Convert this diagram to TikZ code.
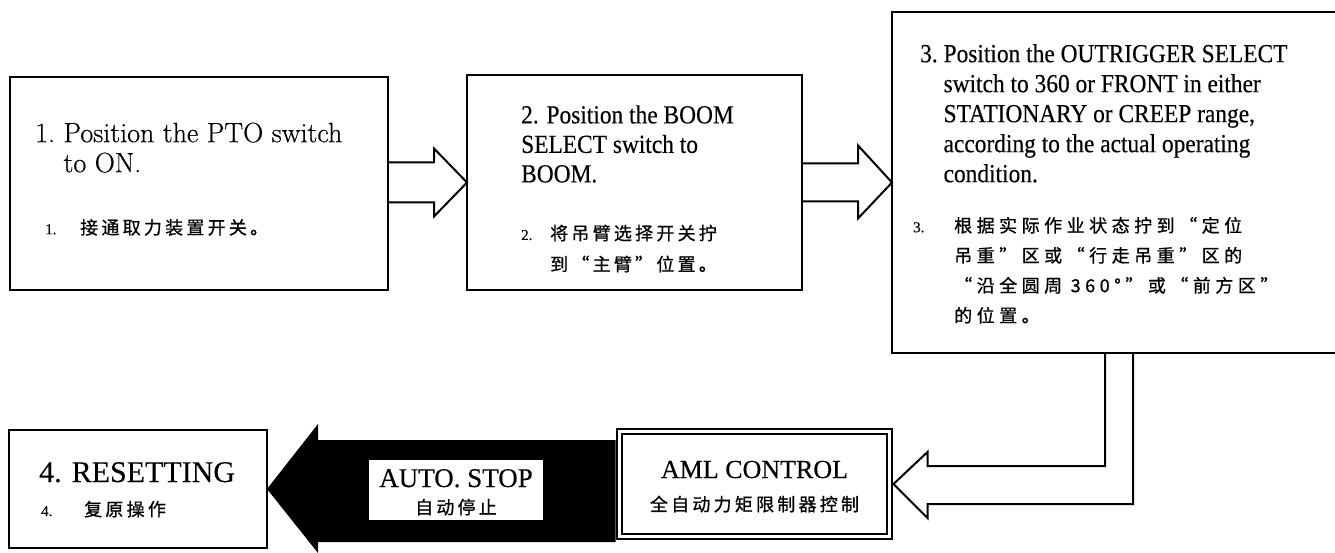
\documentclass[tikz,border=0pt]{standalone}
\usepackage{fontspec}
\newfontfamily\stepone[FakeBold=0.5]{Latin Modern Roman}
\newfontfamily\narrowserif[FakeStretch=0.9,FakeBold=0.3]{Liberation Serif}
\newfontfamily\plainserif[FakeBold=0.3]{Liberation Serif}
\newfontfamily\cjk[LetterSpace=18,FakeBold=0.8]{Noto Sans CJK SC}
\newfontfamily\cjkwide[LetterSpace=25,FakeBold=0.8]{Noto Sans CJK SC}
\usetikzlibrary{calc}

\tikzset{
  stepbox/.style={draw, line width=2.6pt, inner sep=0pt, outer sep=0pt},
  hollow/.style={draw, line width=2pt, line join=miter},
  entext/.style={inner sep=0pt, anchor=north west, align=left},
  cntext/.style={inner sep=0pt, anchor=north west, align=left, font=\fontsize{18}{30}\selectfont\cjk},
}
\newcommand{\stepnum}[2]{\makebox[#1][l]{\plainserif\fontsize{15}{15}\selectfont #2}}

\begin{document}
\begin{tikzpicture}[x=1pt, y=-1pt]

	\useasboundingbox (0,0) rectangle (1335,553);

	% ---------- top row of steps ----------
	\node[stepbox, minimum width=378pt, minimum height=213pt] (box1) at (199,183.5) {};
	\node[stepbox, minimum width=335pt, minimum height=215pt] (box2) at (634.5,182.5) {};
	\node[inner sep=0pt, outer sep=0pt, minimum width=444pt, minimum height=341pt] (box3) at (1114,182.5) {};
	\draw[line width=2.6pt] (box3.north east) -- (box3.north west) -- (box3.south west) -- (box3.south east);

	% step 1 text
	\node[entext, font=\stepone\fontsize{28}{30}\selectfont] (t1) at (35,121)
	{\strut 1.~Position the PTO switch\\ \phantom{1.~}to ON.};
	\node[cntext] (c1) at (45,213) {\strut\stepnum{35pt}{1.}接通取力装置开关。};

	% step 2 text
	\node[entext, font=\narrowserif\fontsize{26}{29.5}\selectfont] (t2) at (521,102.5)
	{\strut 2. Position the BOOM\\ SELECT switch to\\ BOOM.};
	\node[cntext, font=\fontsize{18}{31}\selectfont\cjk] (c2) at (521,218)
	{\strut\stepnum{29pt}{2.}将吊臂选择开关拧\\ \hspace*{29pt}到“主臂”位置。};

	% step 3 text
	\node[entext, font=\narrowserif\fontsize{26}{30}\selectfont] (t3) at (920,41)
	{\strut 3.~Position the OUTRIGGER SELECT\\
	\phantom{3.~}switch to 360 or FRONT in either\\
	\phantom{3.~}STATIONARY or CREEP range,\\
	\phantom{3.~}according to the actual operating\\
	\phantom{3.~}condition.};
	\node[cntext, font=\fontsize{18}{30}\selectfont\cjkwide] (c3) at (913,211)
	{\strut\stepnum{41pt}{3.}根据实际作业状态拧到“定位\\
	\hspace*{41pt}吊重”区或“行走吊重”区的\\
	\hspace*{41pt}“沿全圆周 360°”或“前方区”\\
	\hspace*{41pt}的位置。};

	% ---------- bottom row ----------
	\node[stepbox, minimum width=258pt, minimum height=118pt] (box4) at (138,489) {};
	\node[stepbox, double, line width=2pt, double distance=3.5pt, fill=white,
	minimum width=270pt, minimum height=105pt] (aml) at (754.5,484) {};

	% hollow arrows between the steps
	\draw[hollow] ($(box1.east |- box2.west)+(0,-20)$) -- ($(box2.west)+(-33,-20)$)
	-- ($(box2.west)+(-33,-34)$) -- (box2.west) -- ($(box2.west)+(-33,34)$)
	-- ($(box2.west)+(-33,20)$) -- ($(box1.east |- box2.west)+(0,20)$);
	\draw[hollow] ($(box2.east |- box3.west)+(0,-19)$) -- ($(box3.west)+(-34,-19)$)
	-- ($(box3.west)+(-34,-37)$) -- (box3.west) -- ($(box3.west)+(-34,36)$)
	-- ($(box3.west)+(-34,19)$) -- ($(box2.east |- box3.west)+(0,19)$);

	% bent arrow down to the AML box
	\coordinate (drop) at (1119,484);
	\draw[hollow] ($(drop |- box3.south)+(-14,0)$) -- ($(drop)+(-14,-18)$)
	-- ($(aml.east)+(38,-18)$) -- ($(aml.east)+(38,-32)$) -- ($(aml.east)+(4,0)$)
	-- ($(aml.east)+(38,34)$) -- ($(aml.east)+(38,20)$) -- ($(drop)+(14,20)$)
	-- ($(drop |- box3.south)+(14,0)$);

	% black arrow AML -> resetting
	\fill ($(box4.east)+(51,-49)$) -- ($(box4.east)+(51,-65)$) -- (box4.east)
	-- ($(box4.east)+(51,64)$) -- ($(box4.east)+(51,53)$)
	-- ($(aml.west |- box4.east)+(-4,53)$) -- ($(aml.west |- box4.east)+(-4,-49)$) -- cycle;
	\node[fill=white, inner sep=0pt, minimum width=174pt, minimum height=60pt] (autostop) at (456,490) {};

	% bottom texts
	\node[anchor=base west, inner sep=0pt, font=\plainserif\fontsize{30}{30}\selectfont] (t4) at (39,482) {4. RESETTING};
	\node[anchor=base west, inner sep=0pt, font=\fontsize{18}{18}\selectfont\cjk] (c4) at (41,516) {\stepnum{43pt}{4.}复原操作};
	\node[anchor=base, inner sep=0pt, font=\plainserif\fontsize{27}{27}\selectfont] (autoen) at (456,487) {AUTO. STOP};
	\node[anchor=base, inner sep=0pt, font=\fontsize{18}{18}\selectfont\cjk] (autocn) at (456,514) {自动停止};
	\node[anchor=base, inner sep=0pt, font=\plainserif\fontsize{26}{26}\selectfont] (amlen) at (754.5,478) {AML CONTROL};
	\node[anchor=base, inner sep=0pt, font=\fontsize{18}{18}\selectfont\cjk] (amlcn) at (754.5,511) {全自动力矩限制器控制};

\end{tikzpicture}
\end{document}
